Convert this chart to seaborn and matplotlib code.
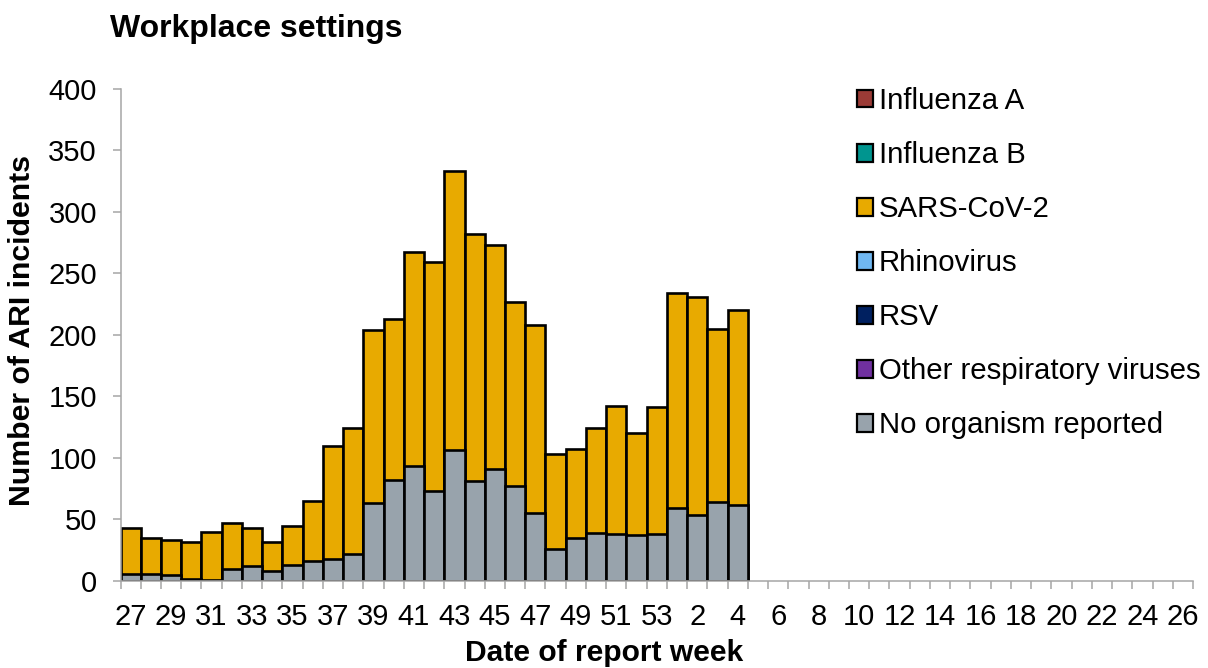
import numpy as np
import pandas as pd
import matplotlib
matplotlib.use("Agg")
import matplotlib.pyplot as plt
import seaborn as sns
from matplotlib.patches import Patch
from matplotlib.ticker import FixedLocator

# ---- data ----
all_weeks = ["27", "28", "29", "30", "31", "32", "33", "34", "35", "36", "37", "38", "39", "40",
             "41", "42", "43", "44", "45", "46", "47", "48", "49", "50", "51", "52", "53",
             "1", "2", "3", "4", "5", "6", "7", "8", "9", "10", "11", "12", "13", "14", "15",
             "16", "17", "18", "19", "20", "21", "22", "23", "24", "25", "26"]
bar_weeks = ["27", "28", "29", "30", "31", "32", "33", "34", "35", "36", "37", "38", "39", "40",
             "41", "42", "43", "44", "45", "46", "47", "48", "49", "50", "51", "52", "53",
             "1", "2", "3", "4"]
no_organism = [6, 6, 5, 2, 1, 10, 12, 8, 13, 16, 18, 22, 63, 82, 93, 73, 106, 81, 91, 77, 55,
               26, 35, 39, 38, 37, 38, 59, 54, 64, 62]
sars_cov_2 = [37, 29, 28, 30, 39, 37, 31, 24, 32, 49, 92, 102, 141, 131, 174, 186, 227, 201, 182,
              150, 153, 77, 72, 85, 104, 83, 103, 175, 177, 141, 158]
series_names = ["Influenza A", "Influenza B", "SARS-CoV-2", "Rhinovirus", "RSV",
                "Other respiratory viruses", "No organism reported"]
series_colors = ["#9B3B36", "#00958F", "#E8AA00", "#70B8F2", "#002060", "#7030A0", "#98A3AC"]

# ---- style ----
sns.set_style("white")
plt.rcParams["font.family"] = ["Liberation Sans", "DejaVu Sans"]
plt.rcParams["text.color"] = "black"

fig = plt.figure(figsize=(12.08, 6.68), dpi=100)
ax = fig.add_axes([120.5 / 1208, 1 - 581 / 668, (1193 - 120.5) / 1208, (581 - 88.5) / 668])

df = pd.DataFrame({"week": bar_weeks, "sars": sars_cov_2, "none": no_organism})
df["stack"] = df["sars"] + df["none"]

sns.barplot(data=df, x="week", y="stack", order=all_weeks, color=series_colors[2],
            saturation=1, width=1.0, edgecolor="black", linewidth=1.9, errorbar=None, ax=ax)
sns.barplot(data=df, x="week", y="none", order=all_weeks, color=series_colors[6],
            saturation=1, width=1.0, edgecolor="black", linewidth=1.9, errorbar=None, ax=ax)

ax.set_xlim(-0.5, 52.5)
ax.set_ylim(0, 400)
ax.set_yticks(np.arange(0, 401, 50))
ax.set_xticks(np.arange(0, 53, 2))
ax.set_xticklabels(all_weeks[::2])
ax.xaxis.set_minor_locator(FixedLocator(np.arange(-0.5, 53, 1)))
ax.set_xlabel("")
ax.set_ylabel("")

grey = "#A6A6A6"
ax.tick_params(axis="x", which="major", bottom=True, length=0, pad=16, labelsize=21, labelcolor="black")
ax.tick_params(axis="x", which="minor", bottom=True, length=6, width=1.1, color=grey, direction="out")
ax.tick_params(axis="y", which="major", left=True, length=6, width=1.1, color=grey, pad=11,
               labelsize=21, labelcolor="black", direction="out")
for s in ["top", "right"]:
    ax.spines[s].set_visible(False)
for s in ["left", "bottom"]:
    ax.spines[s].set_color(grey)
    ax.spines[s].set_linewidth(1.1)

# ---- texts ----
fig.text(110 / 1208, 1 - 37 / 668, "Workplace settings", fontsize=23, fontweight="bold",
         color="black", ha="left", va="baseline")
fig.text(22 / 1208, 1 - 330 / 668, "Number of ARI incidents", fontsize=21.8, fontweight="bold",
         color="black", rotation=90, ha="center", va="center")
fig.text(0.5, 1 - 653 / 668, "Date of report week", fontsize=21.6, fontweight="bold",
         color="black", ha="center", va="center")

# ---- legend ----
handles = [Patch(facecolor=c, edgecolor="black", linewidth=1.6) for c in series_colors]
leg = fig.legend(handles, series_names, loc="upper left", bbox_to_anchor=(857 / 1208, 1 - 87 / 668),
                 frameon=False, fontsize=21.2, handlelength=0.55, handleheight=0.55,
                 handletextpad=0.2, labelspacing=0.885, borderpad=0, borderaxespad=0)
for t in leg.get_texts():
    t.set_color("black")

fig.savefig("out.png", dpi=100)
